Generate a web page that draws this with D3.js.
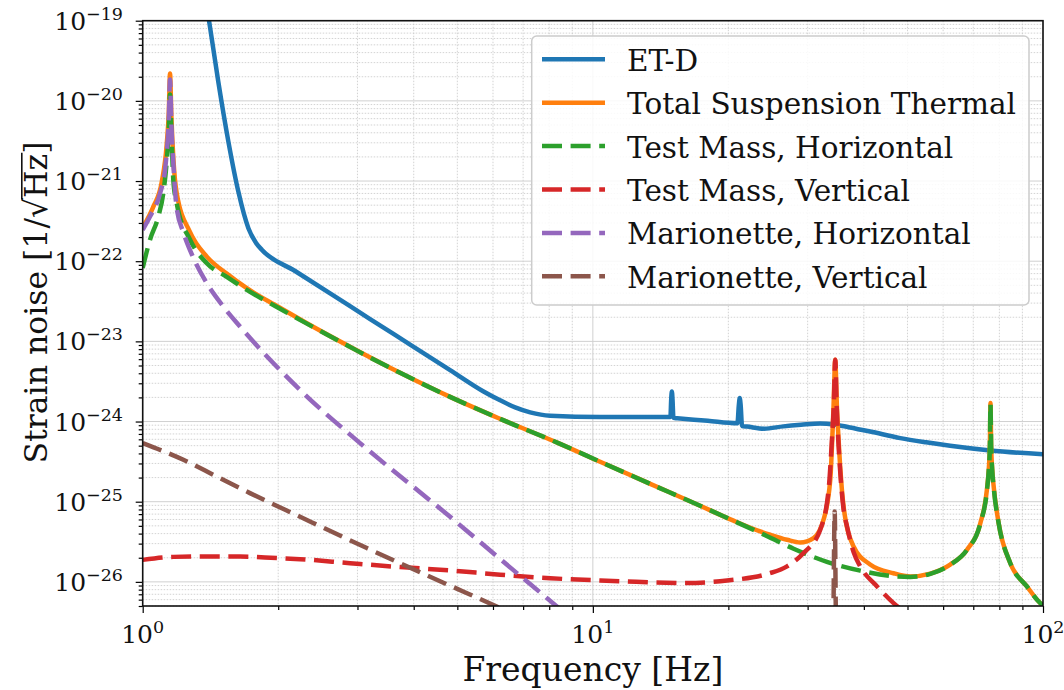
<!DOCTYPE html>
<html>
<head>
<meta charset="utf-8">
<script src="https://cdn.jsdelivr.net/npm/d3@7"></script>
<style>
  body { margin: 0; background: #ffffff; }
  svg { display: block; font-family: "DejaVu Serif", serif; }
</style>
</head>
<body>
<svg id="chart" width="1064" height="690"></svg>
<script>
// ---- Noise budget data: frequency [Hz] and amplitude spectral density [1/sqrt(Hz)] ----
const seriesNames = ["ET-D", "Total Suspension Thermal", "Test Mass, Horizontal",
                     "Test Mass, Vertical", "Marionette, Horizontal", "Marionette, Vertical"];

const etdFreq = [1.404, 1.472, 1.55, 1.631, 1.717, 1.786, 1.841, 2.18, 2.608, 3.2, 3.927, 4.818,
  5.704, 6.223, 6.72, 7.257, 8.04, 10.38, 12.5, 14.87, 14.93, 14.98, 15.03, 15.1, 15.4, 18.0, 20.95,
  21.1, 21.2, 21.3, 21.45, 22.0, 24.0, 26.5, 29.0, 32.0, 34.3, 37.0, 41.3, 48.2, 55.0, 62.2, 76.4, 100];
const etdStrain = [1.0e-19, 1.735e-20, 3.1e-21, 7.38e-22, 2.58e-22, 1.69e-22, 1.38e-22, 7.55e-23,
  3.97e-23, 1.9e-23, 9.12e-24, 4.38e-24, 2.39e-24, 1.84e-24, 1.5e-24, 1.3e-24, 1.18e-24, 1.14e-24,
  1.14e-24, 1.14e-24, 1.9e-24, 2.37e-24, 1.9e-24, 1.11e-24, 1.1e-24, 1.02e-24, 9.5e-25, 1.6e-24,
  1.96e-24, 1.6e-24, 8.8e-25, 8.66e-25, 8.15e-25, 8.7e-25, 9.1e-25, 9.45e-25, 9.2e-25, 8.5e-25,
  7.5e-25, 6.21e-25, 5.5e-25, 4.98e-25, 4.35e-25, 3.9e-25];

const totFreq = [1.0, 1.056, 1.102, 1.131, 1.143, 1.15, 1.158, 1.17, 1.19, 1.274, 1.388, 1.537, 1.703,
  2.0, 2.3, 3.0, 3.73, 4.818, 6.223, 8.457, 10.38, 13.41, 17.31, 20.53, 23.54, 24.77, 27.0, 28.89,
  30.92, 32.54, 33.68, 34.25, 34.55, 34.85, 35.15, 36.06, 37.95, 41.3, 46.56, 50.7, 56.2, 62.2, 67.8,
  72.6, 75.1, 75.8, 76.2, 76.45, 76.7, 77.1, 77.8, 79.7, 84.6, 92.1, 98.6, 100];
const totStrain = [2.62e-22, 4.8e-22, 9.6e-22, 2.92e-21, 7.4e-21, 2.2e-20, 6.4e-21, 1.89e-21, 7.05e-22,
  2.3e-22, 1.14e-22, 7.0e-23, 4.6e-23, 2.7e-23, 1.72e-23, 7.65e-24, 4.06e-24, 2.03e-24, 1.08e-24,
  5.27e-25, 3.15e-25, 1.67e-25, 8.9e-26, 5.8e-26, 4.26e-26, 3.87e-26, 3.35e-26, 3.1e-26, 3.52e-26,
  5.95e-26, 1.88e-25, 1.54e-24, 5.88e-24, 1.54e-24, 5.9e-25, 8.71e-26, 2.76e-26, 1.65e-26, 1.28e-26,
  1.17e-26, 1.27e-26, 1.64e-26, 2.52e-26, 5.42e-26, 1.45e-25, 2.6e-25, 5.0e-25, 1.7e-24, 5.0e-25,
  2.6e-25, 1.45e-25, 5.41e-26, 1.71e-26, 8.77e-27, 5.44e-27, 5.1e-27];

const tmhFreq = [1.0, 1.038, 1.083, 1.111, 1.131, 1.143, 1.15, 1.158, 1.17, 1.19, 1.274, 1.388, 1.537,
  1.703, 2.0, 2.3, 3.0, 3.73, 4.818, 6.223, 8.457, 10.38, 13.41, 17.31, 20.53, 23.54, 27.92, 33.11,
  39.26, 46.56, 50.7, 56.2, 62.2, 67.8, 72.6, 75.1, 75.8, 76.2, 76.45, 76.7, 77.1, 77.8, 79.7, 84.6,
  92.1, 98.6, 100];
const tmhStrain = [8.25e-23, 1.85e-22, 3.6e-22, 7.05e-22, 1.8e-21, 4.5e-21, 1.2e-20, 4.0e-21, 1.0e-21,
  5.28e-22, 1.85e-22, 9.44e-23, 6.37e-23, 4.39e-23, 2.62e-23, 1.7e-23, 7.61e-24, 4.05e-24, 2.03e-24,
  1.08e-24, 5.27e-25, 3.15e-25, 1.67e-25, 8.89e-26, 5.78e-26, 4.09e-26, 2.59e-26, 1.78e-26, 1.38e-26,
  1.175e-26, 1.15e-26, 1.26e-26, 1.63e-26, 2.51e-26, 5.41e-26, 1.41e-25, 2.55e-25, 4.9e-25, 1.65e-24,
  4.9e-25, 2.55e-25, 1.41e-25, 5.41e-26, 1.71e-26, 8.77e-27, 5.44e-27, 5.1e-27];

const tmvFreq = [1.0, 1.17, 1.388, 1.645, 1.985, 2.237, 2.888, 3.73, 4.818, 6.223, 8.04, 10.38, 11.9,
  16.18, 19.86, 24.6, 27.0, 29.38, 32.0, 33.4, 33.97, 34.3, 34.55, 34.8, 35.15, 36.06, 36.7, 37.95,
  39.26, 42.8, 46.56, 48.5];
const tmvStrain = [1.88e-26, 2.05e-26, 2.07e-26, 2.07e-26, 1.98e-26, 1.92e-26, 1.71e-26, 1.53e-26,
  1.39e-26, 1.23e-26, 1.11e-26, 1.04e-26, 1.01e-26, 9.66e-27, 1.04e-26, 1.27e-26, 1.56e-26, 2.29e-26,
  4.47e-26, 1.41e-25, 5.91e-25, 1.6e-24, 5.9e-24, 1.6e-24, 5.0e-25, 8.0e-26, 4.91e-26, 2.35e-26,
  1.56e-26, 8.77e-27, 5.44e-27, 4.5e-27];

const mhFreq = [1.0, 1.038, 1.093, 1.121, 1.131, 1.143, 1.15, 1.158, 1.17, 1.19, 1.231, 1.296, 1.388,
  1.51, 1.645, 2.275, 3.04, 4.818, 6.66, 8.318, 8.6];
const mhStrain = [2.46e-22, 3.6e-22, 7.05e-22, 1.37e-21, 2.3e-21, 5.9e-21, 1.85e-20, 5.0e-21, 1.6e-21,
  4.6e-22, 2.3e-22, 1.1e-22, 5.32e-23, 2.72e-23, 1.53e-23, 2.26e-24, 5.38e-25, 6.48e-26, 1.4e-26,
  4.93e-27, 4.2e-27];

const mvFreq = [1.0, 1.231, 1.46, 1.731, 2.237, 3.147, 4.424, 6.117, 10.0, 20.0, 33.5, 34.2, 34.45,
  34.7, 36.0, 50.0, 100];
const mvStrain = [5.38e-25, 3.33e-25, 2.06e-25, 1.28e-25, 6.48e-26, 2.64e-26, 1.11e-26, 4.93e-27,
  1.4e-27, 2.3e-28, 6.5e-29, 2.5e-27, 7.55e-26, 2.5e-27, 5.5e-29, 2.3e-29, 3.6e-30];

const xTickExponents = [0, 1, 2];
const yTickExponents = [-26, -25, -24, -23, -22, -21, -20, -19];

// ---- Layout and styling ----
const plot = { left: 142.7, right: 1043, top: 20.7, bottom: 606 };
const colors = ["#1f77b4", "#ff7f0e", "#2ca02c", "#d62728", "#9467bd", "#8c564b"];
const dashed = [false, false, true, true, true, true];
const lineWidth = 4.5;
const dashPattern = "20,8.6";

const series = [
  [etdFreq, etdStrain], [totFreq, totStrain], [tmhFreq, tmhStrain],
  [tmvFreq, tmvStrain], [mhFreq, mhStrain], [mvFreq, mvStrain]
].map(([f, s], i) => ({ name: seriesNames[i], color: colors[i], dashed: dashed[i],
  points: f.map((v, k) => [v, s[k]]) }));

const x = d3.scaleLog().domain([1, 100]).range([plot.left, plot.right]);
const y = d3.scaleLog().domain([5e-27, 1e-19]).range([plot.bottom, plot.top]);

const svg = d3.select("#chart");

svg.append("defs").append("clipPath").attr("id", "plot-clip")
  .append("rect")
  .attr("x", plot.left).attr("y", plot.top)
  .attr("width", plot.right - plot.left).attr("height", plot.bottom - plot.top);

// ---- Grid ----
const xMajor = xTickExponents.map(e => Math.pow(10, e));
const xMinor = [];
for (let e = 0; e < 2; e++) for (let m = 2; m <= 9; m++) xMinor.push(m * Math.pow(10, e));
const yMajor = yTickExponents.map(e => Math.pow(10, e));
const yMinor = [];
for (let e = -27; e <= -20; e++) for (let m = 2; m <= 9; m++) {
  const v = m * Math.pow(10, e);
  if (v >= y.domain()[0] && v < y.domain()[1]) yMinor.push(v);
}

const grid = svg.append("g").attr("class", "grid");
grid.selectAll("line.xminor").data(xMinor).join("line")
  .attr("x1", d => x(d)).attr("x2", d => x(d)).attr("y1", plot.top).attr("y2", plot.bottom)
  .attr("stroke", "#c8c8c8").attr("stroke-width", 0.8).attr("stroke-dasharray", "1.5,1.5");
grid.selectAll("line.yminor").data(yMinor).join("line")
  .attr("y1", d => y(d)).attr("y2", d => y(d)).attr("x1", plot.left).attr("x2", plot.right)
  .attr("stroke", "#c8c8c8").attr("stroke-width", 0.8).attr("stroke-dasharray", "1.5,1.5");
grid.selectAll("line.xmajor").data(xMajor).join("line")
  .attr("x1", d => x(d)).attr("x2", d => x(d)).attr("y1", plot.top).attr("y2", plot.bottom)
  .attr("stroke", "#d0d0d0").attr("stroke-width", 1);
grid.selectAll("line.ymajor").data(yMajor).join("line")
  .attr("y1", d => y(d)).attr("y2", d => y(d)).attr("x1", plot.left).attr("x2", plot.right)
  .attr("stroke", "#d0d0d0").attr("stroke-width", 1);

// ---- Curves ----
const line = d3.line().x(d => x(d[0])).y(d => y(d[1])).curve(d3.curveMonotoneX);
const curves = svg.append("g").attr("clip-path", "url(#plot-clip)");
curves.selectAll("path").data(series).join("path")
  .attr("d", d => line(d.points))
  .attr("fill", "none")
  .attr("stroke", d => d.color)
  .attr("stroke-width", lineWidth)
  .attr("stroke-linejoin", "round")
  .attr("stroke-dasharray", d => d.dashed ? dashPattern : null);

// ---- Axes ----
const axisColor = "#000";
const xAxisMajor = svg.append("g").attr("transform", `translate(0,${plot.bottom})`)
  .call(d3.axisBottom(x).tickValues(xMajor).tickSize(7).tickFormat(""));
const xAxisMinor = svg.append("g").attr("transform", `translate(0,${plot.bottom})`)
  .call(d3.axisBottom(x).tickValues(xMinor).tickSize(4).tickFormat(""));
const yAxisMajor = svg.append("g").attr("transform", `translate(${plot.left},0)`)
  .call(d3.axisLeft(y).tickValues(yMajor).tickSize(7).tickFormat(""));
const yAxisMinor = svg.append("g").attr("transform", `translate(${plot.left},0)`)
  .call(d3.axisLeft(y).tickValues(yMinor).tickSize(4).tickFormat(""));
[xAxisMajor, xAxisMinor, yAxisMajor, yAxisMinor].forEach(g => {
  g.select(".domain").remove();
  g.selectAll(".tick line").attr("stroke", axisColor).attr("stroke-width", 1.2);
});

// frame
svg.append("rect")
  .attr("x", plot.left).attr("y", plot.top)
  .attr("width", plot.right - plot.left).attr("height", plot.bottom - plot.top)
  .attr("fill", "none").attr("stroke", "#111").attr("stroke-width", 1.6);

// power-of-ten labels with superscript exponents
const tickFont = 25, supFont = 17.5;
function powerLabel(parent, exp, px, py, anchor) {
  const t = parent.append("text")
    .attr("x", px).attr("y", py).attr("text-anchor", anchor)
    .attr("font-size", tickFont).attr("fill", "#111");
  t.append("tspan").text("10");
  t.append("tspan").attr("dy", -10).attr("font-size", supFont)
    .text(exp < 0 ? "\u2212" + (-exp) : String(exp));
  return t;
}
const labels = svg.append("g");
xTickExponents.forEach(e => powerLabel(labels, e, x(Math.pow(10, e)), 643, "middle"));
yTickExponents.forEach(e => powerLabel(labels, e, 123, y(Math.pow(10, e)) + 9, "end"));

// axis titles
const titleFont = 33;
svg.append("text")
  .attr("x", (plot.left + plot.right) / 2).attr("y", 681)
  .attr("text-anchor", "middle").attr("font-size", titleFont).attr("fill", "#111")
  .text("Frequency [Hz]");

const yTitleFont = 31.5;
const yTitle = svg.append("g").attr("transform", "translate(47,302.5) rotate(-90)");
const yText = yTitle.append("text").attr("text-anchor", "middle")
  .attr("font-size", yTitleFont).attr("fill", "#111");
yText.append("tspan").text("Strain noise [1/");
yText.append("tspan").text("\u221A");
yText.append("tspan").text("Hz");
yText.append("tspan").text("]");
{
  // overline of the square root spanning "Hz"
  const node = yText.node();
  const full = "Strain noise [1/\u221AHz]";
  const iRoot = full.indexOf("\u221A");
  const iZ = full.indexOf("z");
  const x0 = node.getEndPositionOfChar(iRoot).x - 1.5;
  const x1 = node.getEndPositionOfChar(iZ).x + 1;
  yTitle.append("line")
    .attr("x1", x0).attr("x2", x1)
    .attr("y1", -0.8 * yTitleFont).attr("y2", -0.8 * yTitleFont)
    .attr("stroke", "#111").attr("stroke-width", 1.6);
}

// ---- Legend ----
const legend = svg.append("g");
const lg = { x: 531.7, y: 36, w: 497.3, h: 269, row0: 59.3, rowStep: 43.4 };
legend.append("rect")
  .attr("x", lg.x).attr("y", lg.y).attr("width", lg.w).attr("height", lg.h)
  .attr("rx", 5).attr("ry", 5)
  .attr("fill", "#fff").attr("fill-opacity", 0.85)
  .attr("stroke", "#cccccc").attr("stroke-width", 1.5);
const rows = legend.selectAll("g.row").data(series).join("g")
  .attr("transform", (d, i) => `translate(0,${lg.row0 + i * lg.rowStep})`);
rows.append("line")
  .attr("x1", 542).attr("x2", 605).attr("y1", 0).attr("y2", 0)
  .attr("stroke", d => d.color).attr("stroke-width", lineWidth)
  .attr("stroke-dasharray", d => d.dashed ? dashPattern : null);
rows.append("text")
  .attr("x", 627).attr("y", 11.5)
  .attr("font-size", 29.5).attr("fill", "#111")
  .text(d => d.name);
</script>
</body>
</html>
